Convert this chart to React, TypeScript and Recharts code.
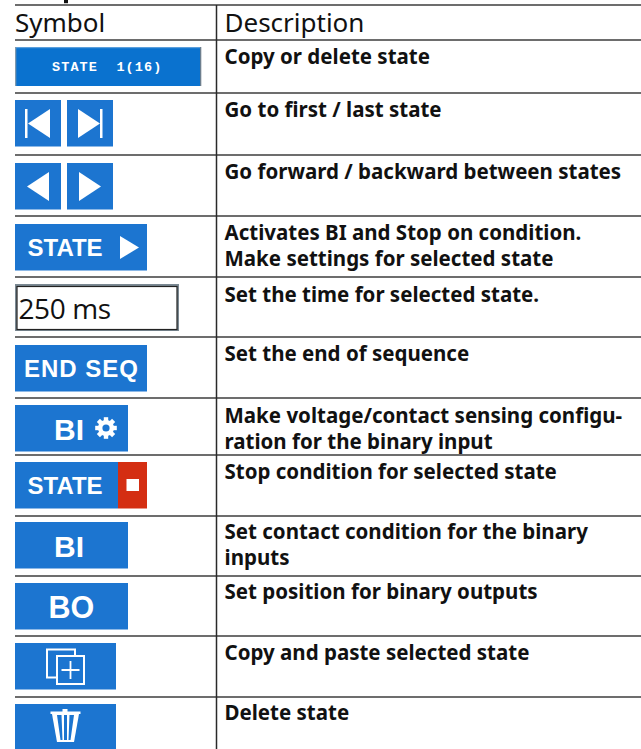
import React from "react";
import { ComposedChart, Scatter, ReferenceLine, XAxis, YAxis } from "recharts";

const WIDTH = 641;
const HEIGHT = 749;

const headers = ["Symbol", "Description"];
const rowRules = [5, 40, 93, 155, 216, 277, 337, 398, 455, 516, 576, 636, 697];
const symbolKinds = ["counter", "firstLast", "prevNext", "stateGo", "time", "endSeq", "biGear", "stateStop", "bi", "bo", "copy", "trash"];
const symbolTops = [47, 100, 163, 224, 284, 345, 405, 462, 522, 583, 643, 704];
const descriptions = [
  ["Copy or delete state"],
  ["Go to first / last state"],
  ["Go forward / backward between states"],
  ["Activates BI and Stop on condition.", "Make settings for selected state"],
  ["Set the time for selected state."],
  ["Set the end of sequence"],
  ["Make voltage/contact sensing configu-", "ration for the binary input"],
  ["Stop condition for selected state"],
  ["Set contact condition for the binary", "inputs"],
  ["Set position for binary outputs"],
  ["Copy and paste selected state"],
  ["Delete state"],
];
const descriptionBaselines = [64, 117, 179, 240, 302, 361, 423, 479, 539, 599, 660, 720];

const symbolData = symbolKinds.map((kind, i) => ({ x: 15, y: symbolTops[i], kind }));
const textData = descriptions.map((lines, i) => ({ x: 224.5, y: descriptionBaselines[i], lines }));
const headerData = headers.map((label, i) => ({ x: i === 0 ? 15 : 224.5, y: 32, label }));
const remnantData = [{ x: 64, y: 0 }];

const BLUE = "#1c75d0";
const BTN = '"Liberation Sans", Arial, sans-serif';
const BODY = '"Noto Sans", "Open Sans", sans-serif';

const Cap = ({ x, y, children, ls = 0, size = 24 }: any) => (
  <text x={x} y={y} fontFamily={BTN} fontWeight={700} fontSize={size} fill="#fff" letterSpacing={ls}>{children}</text>
);

const Gear = ({ cx, cy }: any) => {
  const teeth = [0, 45, 90, 135, 180, 225, 270, 315];
  return (
    <g>
      <circle cx={cx} cy={cy} r={8} fill="#fff" />
      {teeth.map((a) => (
        <rect key={a} x={cx - 2.2} y={cy - 10.8} width={4.4} height={5} fill="#fff" transform={`rotate(${a} ${cx} ${cy})`} />
      ))}
      <circle cx={cx} cy={cy} r={3.6} fill={BLUE} />
    </g>
  );
};

const SymbolShape = (props: any) => {
  const { cx, cy, payload } = props;
  const x = cx;
  const y = cy;
  const Box = ({ dx = 0, w, h = 46.5, fill = BLUE }: any) => <rect x={x + dx} y={y} width={w} height={h} fill={fill} />;
  switch (payload.kind) {
    case "counter":
      return (
        <g>
          <rect x={x} y={y} width={186} height={39} fill="#0a72cf" />
          <rect x={x} y={y} width={186} height={1.2} fill="#5b9fdc" />
          <rect x={x} y={y} width={1.3} height={39} fill="#7f99ae" />
          <rect x={x + 185} y={y} width={1.3} height={39} fill="#6d7f8e" />
          <text x={x + 37} y={y + 23.5} fontFamily='"Liberation Mono", monospace' fontWeight={700} fontSize={13.5} letterSpacing={1.1} fill="#fff" style={{ whiteSpace: "pre" }}>{"STATE  1(16)"}</text>
        </g>
      );
    case "firstLast":
      return (
        <g>
          <Box w={46} />
          <Box dx={52} w={46} />
          <rect x={x + 10} y={y + 9} width={2.5} height={29} fill="#fff" />
          <polygon points={`${x + 13},${y + 23.5} ${x + 35},${y + 9} ${x + 35},${y + 38}`} fill="#fff" />
          <polygon points={`${x + 63},${y + 9} ${x + 63},${y + 38} ${x + 85},${y + 23.5}`} fill="#fff" />
          <rect x={x + 85} y={y + 9} width={2.5} height={29} fill="#fff" />
        </g>
      );
    case "prevNext":
      return (
        <g>
          <Box w={46} />
          <Box dx={52} w={46} />
          <polygon points={`${x + 12},${y + 23.5} ${x + 34},${y + 9} ${x + 34},${y + 38}`} fill="#fff" />
          <polygon points={`${x + 64},${y + 9} ${x + 64},${y + 38} ${x + 86},${y + 23.5}`} fill="#fff" />
        </g>
      );
    case "stateGo":
      return (
        <g>
          <Box w={132} />
          <Cap x={x + 12.5} y={y + 32}>STATE</Cap>
          <polygon points={`${x + 105},${y + 12} ${x + 105},${y + 35} ${x + 124},${y + 23.5}`} fill="#fff" />
        </g>
      );
    case "time":
      return (
        <g>
          <rect x={x} y={y} width={164} height={47} fill="#7b8993" />
          <rect x={x + 2} y={y + 2.5} width={160} height={43} fill="#fff" stroke="#222" strokeWidth={1.2} />
          <text x={x + 3.5} y={y + 35} fontFamily='"Open Sans", sans-serif' fontSize={28} letterSpacing={-0.4} fill="#111">250 ms</text>
        </g>
      );
    case "endSeq":
      return (
        <g>
          <Box w={132} />
          <Cap x={x + 9} y={y + 32} ls={1}>END SEQ</Cap>
        </g>
      );
    case "biGear":
      return (
        <g>
          <Box w={113} />
          <Cap x={x + 39} y={y + 35} size={30}>BI</Cap>
          <Gear cx={x + 91} cy={y + 23} />
        </g>
      );
    case "stateStop":
      return (
        <g>
          <Box w={103} />
          <Box dx={103} w={29} fill="#d42e12" />
          <Cap x={x + 12.5} y={y + 32}>STATE</Cap>
          <rect x={x + 111.5} y={y + 17} width={12.5} height={12} fill="#fff" />
        </g>
      );
    case "bi":
      return (
        <g>
          <Box w={113} />
          <Cap x={x + 39} y={y + 35} size={30}>BI</Cap>
        </g>
      );
    case "bo":
      return (
        <g>
          <Box w={113} />
          <Cap x={x + 33.5} y={y + 35} size={30.5}>BO</Cap>
        </g>
      );
    case "copy":
      return (
        <g>
          <Box w={101} />
          <rect x={x + 32} y={y + 6.5} width={28} height={28} fill="none" stroke="#fff" strokeWidth={2} />
          <rect x={x + 42} y={y + 13} width={27} height={28} fill={BLUE} stroke="#fff" strokeWidth={2} />
          <path d={`M${x + 46.5} ${y + 27}H${x + 64.5}M${x + 55.5} ${y + 18}V${y + 36}`} stroke="#fff" strokeWidth={1.8} />
        </g>
      );
    case "trash":
      return (
        <g>
          <Box w={101} h={46} />
          <rect x={x + 35.5} y={y + 7.5} width={30} height={2.5} fill="#fff" />
          <rect x={x + 47.5} y={y + 5} width={5} height={3} fill="#fff" />
          <path d={`M${x + 37} ${y + 10}L${x + 42} ${y + 38}H${x + 59}L${x + 64} ${y + 10}Z`} fill="#fff" />
          <path d={`M${x + 42} ${y + 11}L${x + 45.5} ${y + 36}H${x + 47.5}L${x + 46.5} ${y + 11}ZM${x + 49} ${y + 11}V${y + 36}H${x + 52}V${y + 11}ZM${x + 54.5} ${y + 11}L${x + 53.5} ${y + 36}H${x + 55.5}L${x + 59} ${y + 11}Z`} fill={BLUE} />
        </g>
      );
    default:
      return <g />;
  }
};

const DescriptionShape = ({ cx, cy, payload }: any) => (
  <text x={cx} y={cy} fontFamily={BODY} fontWeight={700} fontSize={20.5} fill="#111">
    {payload.lines.map((line: string, i: number) => (
      <tspan key={i} x={cx} dy={i === 0 ? 0 : 26}>{line}</tspan>
    ))}
  </text>
);

const HeaderShape = ({ cx, cy, payload }: any) => (
  <text x={cx} y={cy} fontFamily={BODY} fontSize={26} fill="#111">{payload.label}</text>
);

const RemnantShape = ({ cx, cy }: any) => <rect x={cx} y={cy} width={4} height={3.2} fill="#111" />;

export default function App() {
  return (
    <div style={{ position: "absolute", left: 0, top: 0, width: WIDTH, height: HEIGHT, background: "#fff" }}>
      <ComposedChart width={WIDTH} height={HEIGHT} margin={{ top: 0, right: 0, bottom: 0, left: 0 }} data={symbolData}>
        <XAxis type="number" dataKey="x" domain={[0, WIDTH]} hide allowDataOverflow />
        <YAxis type="number" dataKey="y" domain={[0, HEIGHT]} reversed hide allowDataOverflow />
        {rowRules.map((y) => (
          <ReferenceLine key={y} segment={[{ x: 15, y }, { x: WIDTH, y }]} stroke="#3c3c3c" strokeWidth={1.5} />
        ))}
        <ReferenceLine segment={[{ x: 216.5, y: 5 }, { x: 216.5, y: HEIGHT }]} stroke="#2a2a2a" strokeWidth={1.5} />
        <Scatter data={remnantData} dataKey="y" shape={RemnantShape} isAnimationActive={false} />
        <Scatter data={headerData} dataKey="y" shape={HeaderShape} isAnimationActive={false} />
        <Scatter data={symbolData} dataKey="y" shape={SymbolShape} isAnimationActive={false} />
        <Scatter data={textData} dataKey="y" shape={DescriptionShape} isAnimationActive={false} />
      </ComposedChart>
    </div>
  );
}
